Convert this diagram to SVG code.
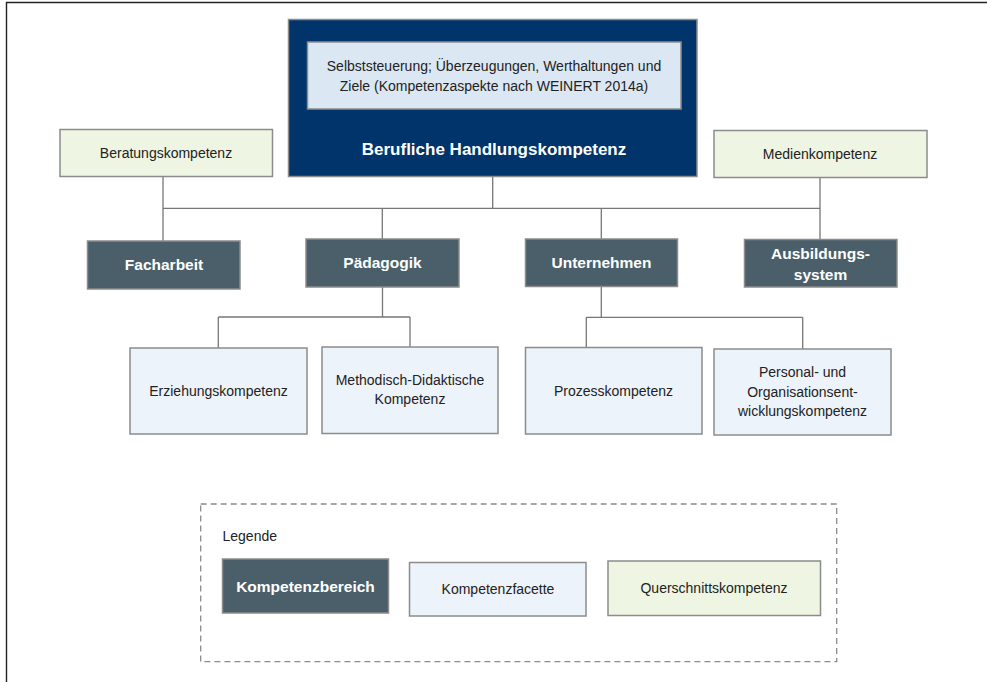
<svg xmlns="http://www.w3.org/2000/svg" width="987" height="682" viewBox="0 0 987 682">
<style>
.box{stroke:#8c8c8c;stroke-width:1.5}
.main{fill:#00346a}
.inner{fill:#dbe8f3}
.area{fill:#4a5f6a}
.facet{fill:#edf3fa}
.cross{fill:#eef5e3}
.t{font-family:"Liberation Sans",Arial,sans-serif;font-size:14px;fill:#222;text-anchor:middle}
.b{font-family:"Liberation Sans",Arial,sans-serif;font-size:15.5px;font-weight:bold;fill:#fff;text-anchor:middle}
.conn{fill:none;stroke:#777;stroke-width:1.3}
</style>
<rect x="0" y="0" width="987" height="682" fill="#fff"/>
<path d="M6.5 682 V2.5 H987" fill="none" stroke="#222" stroke-width="1.4"/>

<g id="connectors">
<path class="conn" d="M492.7 177 V208.3 M163 177 V241 M163 208.3 H820 M382.3 208.3 V239 M601.3 208.3 V239 M820 178 V239"/>
<path class="conn" d="M382.5 287 V317 M218.3 317 H410 M218.3 317 V348 M410 317 V347"/>
<path class="conn" d="M601.3 286 V317.3 M586.3 317.3 H802.7 M586.3 317.3 V347 M802.7 317.3 V349"/>
</g>

<g id="berufliche-handlungskompetenz">
<rect class="box main" x="288.5" y="19.5" width="408.5" height="157"/>
<text class="b" x="494" y="155" style="font-size:17px">Berufliche Handlungskompetenz</text>
</g>
<g id="selbststeuerung">
<rect class="box inner" x="307.5" y="42" width="373.5" height="67"/>
<text class="t" x="494" y="71">Selbststeuerung; Überzeugungen, Werthaltungen und</text>
<text class="t" x="494" y="91">Ziele (Kompetenzaspekte nach WEINERT 2014a)</text>
</g>
<g id="beratungskompetenz">
<rect class="box cross" x="60" y="129.5" width="212.5" height="47"/>
<text class="t" x="166" y="158">Beratungskompetenz</text>
</g>
<g id="medienkompetenz">
<rect class="box cross" x="714" y="130.5" width="213" height="47"/>
<text class="t" x="820" y="159">Medienkompetenz</text>
</g>
<g id="facharbeit">
<rect class="box area" x="87.5" y="241" width="152.5" height="48"/>
<text class="b" x="164" y="270">Facharbeit</text>
</g>
<g id="paedagogik">
<rect class="box area" x="306" y="239" width="153" height="48"/>
<text class="b" x="382.5" y="268">Pädagogik</text>
</g>
<g id="unternehmen">
<rect class="box area" x="525.5" y="239" width="152" height="47.5"/>
<text class="b" x="601.5" y="268">Unternehmen</text>
</g>
<g id="ausbildungssystem">
<rect class="box area" x="744.5" y="239.5" width="152.5" height="47.5"/>
<text class="b" x="820.5" y="259">Ausbildungs-</text>
<text class="b" x="820.5" y="280">system</text>
</g>
<g id="erziehungskompetenz">
<rect class="box facet" x="130" y="348" width="177" height="86"/>
<text class="t" x="218.5" y="396">Erziehungskompetenz</text>
</g>
<g id="methodisch-didaktische-kompetenz">
<rect class="box facet" x="322" y="347" width="176" height="86.5"/>
<text class="t" x="410" y="385">Methodisch-Didaktische</text>
<text class="t" x="410" y="404">Kompetenz</text>
</g>
<g id="prozesskompetenz">
<rect class="box facet" x="525.5" y="347.5" width="176.5" height="86.5"/>
<text class="t" x="613.5" y="396">Prozesskompetenz</text>
</g>
<g id="personal-organisationsentwicklungskompetenz">
<rect class="box facet" x="714" y="349" width="177" height="86"/>
<text class="t" x="802.5" y="377">Personal- und</text>
<text class="t" x="802.5" y="397">Organisationsent-</text>
<text class="t" x="802.5" y="416">wicklungskompetenz</text>
</g>

<g id="legende">
<rect x="200.7" y="504" width="636" height="157.7" fill="none" stroke="#8c8c8c" stroke-width="1.3" stroke-dasharray="6 4"/>
<text class="t" x="222.5" y="541" style="text-anchor:start">Legende</text>
</g>
<g id="legend-kompetenzbereich">
<rect class="box area" x="222.5" y="559" width="166" height="54"/>
<text class="b" x="305.5" y="592">Kompetenzbereich</text>
</g>
<g id="legend-kompetenzfacette">
<rect class="box facet" x="409.5" y="562.5" width="176.5" height="53.5"/>
<text class="t" x="498" y="594">Kompetenzfacette</text>
</g>
<g id="legend-querschnittskompetenz">
<rect class="box cross" x="608" y="561" width="212.5" height="54.5"/>
<text class="t" x="714" y="593">Querschnittskompetenz</text>
</g>
</svg>
